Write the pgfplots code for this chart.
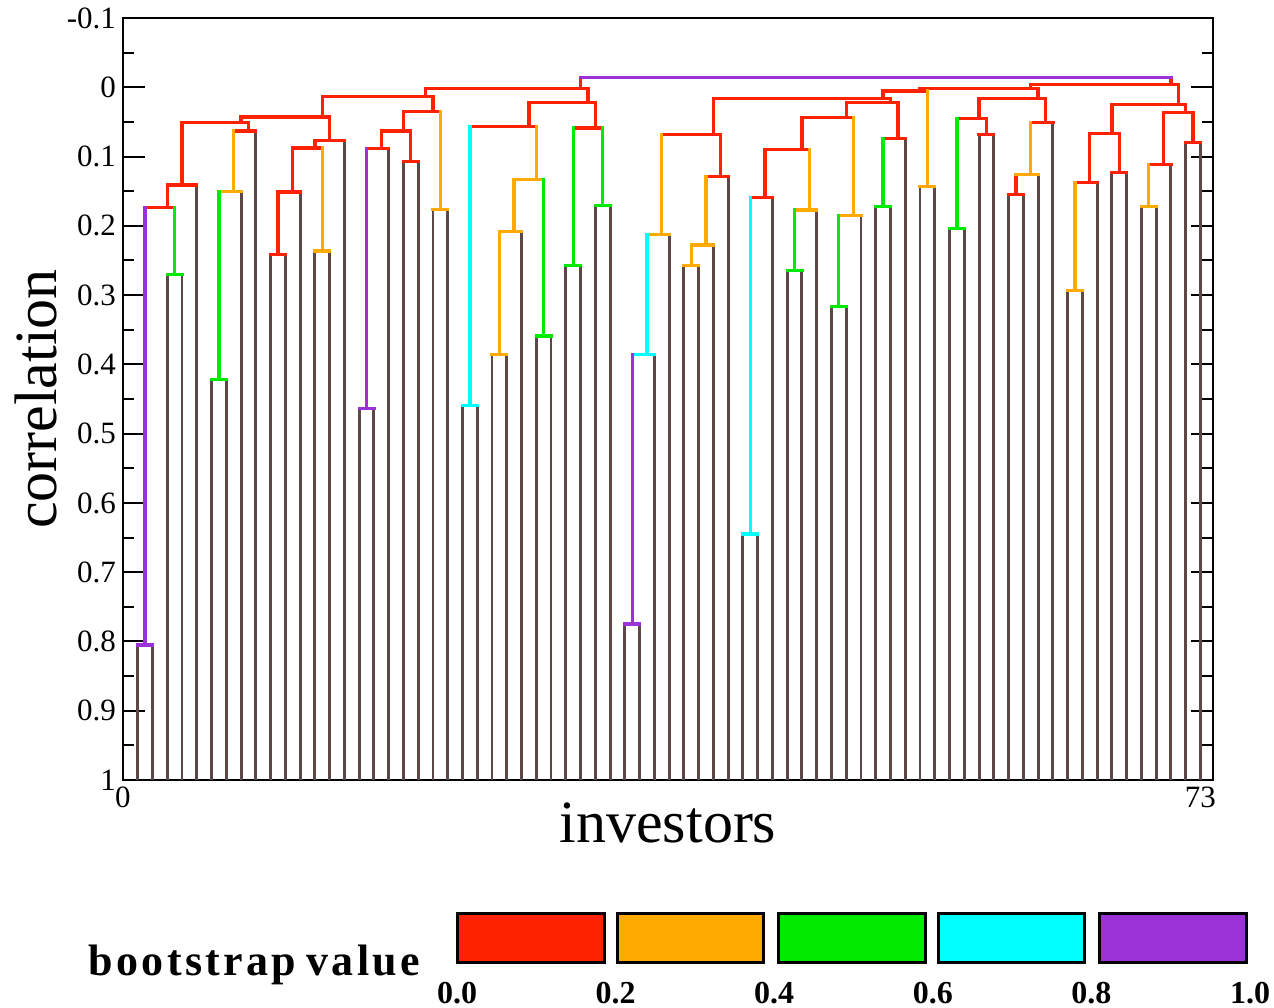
\documentclass[border=0pt]{standalone}
\usepackage{fontspec}
\setmainfont{Liberation Serif}
\usepackage{pgfplots}
\usepackage{pgfplotstable}
\pgfplotsset{compat=1.18}
\definecolor{cRed}{RGB}{255,34,0}
\definecolor{cOrange}{RGB}{255,170,0}
\definecolor{cGreen}{RGB}{0,235,0}
\definecolor{cCyan}{RGB}{0,255,255}
\definecolor{cPurple}{RGB}{155,50,215}
\definecolor{cBrown}{RGB}{92,72,72}

% leaves: vertical line from 1 up to the height where each leaf joins
\pgfplotstableread[row sep=\\]{
x y\\
1 1\\1 0.805\\nan nan\\ 2 1\\2 0.805\\nan nan\\ 3 1\\3 0.270\\nan nan\\ 4 1\\4 0.270\\nan nan\\
5 1\\5 0.141\\nan nan\\ 6 1\\6 0.422\\nan nan\\ 7 1\\7 0.422\\nan nan\\ 8 1\\8 0.150\\nan nan\\
9 1\\9 0.063\\nan nan\\ 10 1\\10 0.241\\nan nan\\ 11 1\\11 0.241\\nan nan\\ 12 1\\12 0.151\\nan nan\\
13 1\\13 0.2365\\nan nan\\ 14 1\\14 0.2365\\nan nan\\ 15 1\\15 0.077\\nan nan\\ 16 1\\16 0.4635\\nan nan\\
17 1\\17 0.4635\\nan nan\\ 18 1\\18 0.0885\\nan nan\\ 19 1\\19 0.107\\nan nan\\ 20 1\\20 0.107\\nan nan\\
21 1\\21 0.176\\nan nan\\ 22 1\\22 0.176\\nan nan\\ 23 1\\23 0.459\\nan nan\\ 24 1\\24 0.459\\nan nan\\
25 1\\25 0.386\\nan nan\\ 26 1\\26 0.386\\nan nan\\ 27 1\\27 0.208\\nan nan\\ 28 1\\28 0.359\\nan nan\\
29 1\\29 0.359\\nan nan\\ 30 1\\30 0.2575\\nan nan\\ 31 1\\31 0.2575\\nan nan\\ 32 1\\32 0.171\\nan nan\\
33 1\\33 0.171\\nan nan\\ 34 1\\34 0.775\\nan nan\\ 35 1\\35 0.775\\nan nan\\ 36 1\\36 0.386\\nan nan\\
37 1\\37 0.213\\nan nan\\ 38 1\\38 0.2575\\nan nan\\ 39 1\\39 0.2575\\nan nan\\ 40 1\\40 0.2276\\nan nan\\
41 1\\41 0.129\\nan nan\\ 42 1\\42 0.645\\nan nan\\ 43 1\\43 0.645\\nan nan\\ 44 1\\44 0.159\\nan nan\\
45 1\\45 0.265\\nan nan\\ 46 1\\46 0.265\\nan nan\\ 47 1\\47 0.177\\nan nan\\ 48 1\\48 0.3167\\nan nan\\
49 1\\49 0.3167\\nan nan\\ 50 1\\50 0.185\\nan nan\\ 51 1\\51 0.1723\\nan nan\\ 52 1\\52 0.1723\\nan nan\\
53 1\\53 0.0736\\nan nan\\ 54 1\\54 0.1434\\nan nan\\ 55 1\\55 0.1434\\nan nan\\ 56 1\\56 0.2036\\nan nan\\
57 1\\57 0.2036\\nan nan\\ 58 1\\58 0.0679\\nan nan\\ 59 1\\59 0.0679\\nan nan\\ 60 1\\60 0.1545\\nan nan\\
61 1\\61 0.1545\\nan nan\\ 62 1\\62 0.1256\\nan nan\\ 63 1\\63 0.0505\\nan nan\\ 64 1\\64 0.2935\\nan nan\\
65 1\\65 0.2935\\nan nan\\ 66 1\\66 0.137\\nan nan\\ 67 1\\67 0.1227\\nan nan\\ 68 1\\68 0.1227\\nan nan\\
69 1\\69 0.172\\nan nan\\ 70 1\\70 0.172\\nan nan\\ 71 1\\71 0.111\\nan nan\\ 72 1\\72 0.0794\\nan nan\\
73 1\\73 0.0794\\nan nan\\
}\leaves

% bootstrap 0.0-0.2
\pgfplotstableread[row sep=\\]{
x y\\
1.5 0.174\\3.5 0.174\\nan nan\\3 0.174\\3 0.141\\nan nan\\
3 0.141\\5 0.141\\nan nan\\4 0.141\\4 0.051\\nan nan\\
7.5 0.063\\9 0.063\\nan nan\\8.5 0.063\\8.5 0.051\\nan nan\\
4 0.051\\8.5 0.051\\nan nan\\8 0.051\\8 0.043\\nan nan\\
10 0.241\\11 0.241\\nan nan\\10.5 0.241\\10.5 0.151\\nan nan\\
10.5 0.151\\12 0.151\\nan nan\\11.5 0.151\\11.5 0.0875\\nan nan\\
11.5 0.0875\\13.5 0.0875\\nan nan\\13 0.0875\\13 0.077\\nan nan\\
13 0.077\\15 0.077\\nan nan\\14 0.077\\14 0.043\\nan nan\\
8 0.043\\14 0.043\\nan nan\\13.5 0.043\\13.5 0.013\\nan nan\\
16.5 0.0885\\18 0.0885\\nan nan\\17.5 0.0885\\17.5 0.063\\nan nan\\
19 0.107\\20 0.107\\nan nan\\19.5 0.107\\19.5 0.063\\nan nan\\
17.5 0.063\\19.5 0.063\\nan nan\\19 0.063\\19 0.035\\nan nan\\
19 0.035\\21.5 0.035\\nan nan\\21 0.035\\21 0.013\\nan nan\\
13.5 0.013\\21 0.013\\nan nan\\20.5 0.013\\20.5 0.0015\\nan nan\\
23.5 0.0568\\28 0.0568\\nan nan\\27.5 0.0568\\27.5 0.022\\nan nan\\
30.5 0.059\\32.5 0.059\\nan nan\\32 0.059\\32 0.022\\nan nan\\
27.5 0.022\\32 0.022\\nan nan\\31.5 0.022\\31.5 0.0015\\nan nan\\
20.5 0.0015\\31.5 0.0015\\nan nan\\31 0.0015\\31 -0.0145\\nan nan\\
39.5 0.129\\41 0.129\\nan nan\\40.5 0.129\\40.5 0.068\\nan nan\\
36.5 0.068\\40.5 0.068\\nan nan\\40 0.068\\40 0.016\\nan nan\\
42.5 0.159\\44 0.159\\nan nan\\43.5 0.159\\43.5 0.0895\\nan nan\\
43.5 0.0895\\46.5 0.0895\\nan nan\\46 0.0895\\46 0.0438\\nan nan\\
46 0.0438\\49.5 0.0438\\nan nan\\49 0.0438\\49 0.0221\\nan nan\\
51.5 0.0736\\53 0.0736\\nan nan\\52.5 0.0736\\52.5 0.0221\\nan nan\\
49 0.0221\\52.5 0.0221\\nan nan\\52 0.0221\\52 0.016\\nan nan\\
40 0.016\\52 0.016\\nan nan\\51.5 0.016\\51.5 0.0053\\nan nan\\
51.5 0.0053\\54.5 0.0053\\nan nan\\54 0.0053\\54 0.0014\\nan nan\\
58 0.0679\\59 0.0679\\nan nan\\58.5 0.0679\\58.5 0.0448\\nan nan\\
56.5 0.0448\\58.5 0.0448\\nan nan\\58 0.0448\\58 0.0159\\nan nan\\
60 0.1545\\61 0.1545\\nan nan\\60.5 0.1545\\60.5 0.1256\\nan nan\\
61.5 0.0505\\63 0.0505\\nan nan\\62.5 0.0505\\62.5 0.0159\\nan nan\\
58 0.0159\\62.5 0.0159\\nan nan\\62 0.0159\\62 0.0014\\nan nan\\
54 0.0014\\62 0.0014\\nan nan\\61.5 0.0014\\61.5 -0.0043\\nan nan\\
64.5 0.137\\66 0.137\\nan nan\\65.5 0.137\\65.5 0.0664\\nan nan\\
67 0.1227\\68 0.1227\\nan nan\\67.5 0.1227\\67.5 0.0664\\nan nan\\
65.5 0.0664\\67.5 0.0664\\nan nan\\67 0.0664\\67 0.0245\\nan nan\\
69.5 0.111\\71 0.111\\nan nan\\70.5 0.111\\70.5 0.036\\nan nan\\
72 0.0794\\73 0.0794\\nan nan\\72.5 0.0794\\72.5 0.036\\nan nan\\
70.5 0.036\\72.5 0.036\\nan nan\\72 0.036\\72 0.0245\\nan nan\\
67 0.0245\\72 0.0245\\nan nan\\71.5 0.0245\\71.5 -0.0043\\nan nan\\
61.5 -0.0043\\71.5 -0.0043\\nan nan\\71 -0.0043\\71 -0.0145\\nan nan\\
}\redsegs

% bootstrap 0.2-0.4
\pgfplotstableread[row sep=\\]{
x y\\
6.5 0.150\\8 0.150\\nan nan\\7.5 0.150\\7.5 0.063\\nan nan\\
13 0.2365\\14 0.2365\\nan nan\\13.5 0.2365\\13.5 0.0875\\nan nan\\
21 0.176\\22 0.176\\nan nan\\21.5 0.176\\21.5 0.035\\nan nan\\
25 0.386\\26 0.386\\nan nan\\25.5 0.386\\25.5 0.208\\nan nan\\
25.5 0.208\\27 0.208\\nan nan\\26.5 0.208\\26.5 0.133\\nan nan\\
26.5 0.133\\28.5 0.133\\nan nan\\28 0.133\\28 0.0568\\nan nan\\
35.5 0.213\\37 0.213\\nan nan\\36.5 0.213\\36.5 0.068\\nan nan\\
38 0.2575\\39 0.2575\\nan nan\\38.5 0.2575\\38.5 0.2276\\nan nan\\
38.5 0.2276\\40 0.2276\\nan nan\\39.5 0.2276\\39.5 0.129\\nan nan\\
45.5 0.177\\47 0.177\\nan nan\\46.5 0.177\\46.5 0.0895\\nan nan\\
48.5 0.185\\50 0.185\\nan nan\\49.5 0.185\\49.5 0.0438\\nan nan\\
54 0.1434\\55 0.1434\\nan nan\\54.5 0.1434\\54.5 0.0053\\nan nan\\
60.5 0.1256\\62 0.1256\\nan nan\\61.5 0.1256\\61.5 0.0505\\nan nan\\
64 0.2935\\65 0.2935\\nan nan\\64.5 0.2935\\64.5 0.137\\nan nan\\
69 0.172\\70 0.172\\nan nan\\69.5 0.172\\69.5 0.111\\nan nan\\
}\orangesegs

% bootstrap 0.4-0.6
\pgfplotstableread[row sep=\\]{
x y\\
3 0.270\\4 0.270\\nan nan\\3.5 0.270\\3.5 0.174\\nan nan\\
6 0.422\\7 0.422\\nan nan\\6.5 0.422\\6.5 0.150\\nan nan\\
28 0.359\\29 0.359\\nan nan\\28.5 0.359\\28.5 0.133\\nan nan\\
30 0.2575\\31 0.2575\\nan nan\\30.5 0.2575\\30.5 0.059\\nan nan\\
32 0.171\\33 0.171\\nan nan\\32.5 0.171\\32.5 0.059\\nan nan\\
45 0.265\\46 0.265\\nan nan\\45.5 0.265\\45.5 0.177\\nan nan\\
48 0.3167\\49 0.3167\\nan nan\\48.5 0.3167\\48.5 0.185\\nan nan\\
51 0.1723\\52 0.1723\\nan nan\\51.5 0.1723\\51.5 0.0736\\nan nan\\
56 0.2036\\57 0.2036\\nan nan\\56.5 0.2036\\56.5 0.0448\\nan nan\\
}\greensegs

% bootstrap 0.6-0.8
\pgfplotstableread[row sep=\\]{
x y\\
23 0.459\\24 0.459\\nan nan\\23.5 0.459\\23.5 0.0568\\nan nan\\
34.5 0.386\\36 0.386\\nan nan\\35.5 0.386\\35.5 0.213\\nan nan\\
42 0.645\\43 0.645\\nan nan\\42.5 0.645\\42.5 0.159\\nan nan\\
}\cyansegs

% bootstrap 0.8-1.0
\pgfplotstableread[row sep=\\]{
x y\\
1 0.805\\2 0.805\\nan nan\\1.5 0.805\\1.5 0.174\\nan nan\\
16 0.4635\\17 0.4635\\nan nan\\16.5 0.4635\\16.5 0.0885\\nan nan\\
34 0.775\\35 0.775\\nan nan\\34.5 0.775\\34.5 0.386\\nan nan\\
31 -0.0145\\71 -0.0145\\nan nan\\
}\purplesegs

\begin{document}
\begin{tikzpicture}
\useasboundingbox (0,0) rectangle (637pt,503.5pt);
\begin{axis}[
  at={(61.5pt,113.5pt)}, anchor=south west,
  scale only axis, width=545pt, height=381pt,
  xmin=0, xmax=73.85, ymin=-0.1, ymax=1, y dir=reverse,
  xtick={0,73}, xticklabels={0,73}, xtick pos=bottom,
  ytick={-0.1,0,0.1,0.2,0.3,0.4,0.5,0.6,0.7,0.8,0.9,1},
  yticklabels={-0.1,0,0.1,0.2,0.3,0.4,0.5,0.6,0.7,0.8,0.9,1},
  minor y tick num=1,
  tick align=inside,
  major tick length=11pt, minor tick length=5.5pt,
  major tick style={black, line width=1pt},
  minor tick style={black, line width=1pt},
  axis line style={line width=1pt},
  tick label style={font=\fontsize{15.5}{18}\selectfont},
  xlabel={investors}, ylabel={correlation},
  label style={font=\fontsize{30}{34}\selectfont},
  xlabel style={at={(axis description cs:0.5,-0.0814)}, anchor=base, inner sep=0pt},
  ylabel style={at={(axis description cs:-0.0606,0.5)}, anchor=base, inner sep=0pt},
  unbounded coords=jump,
]
\addplot[cBrown, line width=1.45pt, mark=none] table[x=x,y=y] {\leaves};
\addplot[cRed, line width=1.65pt, line cap=rect, mark=none] table[x=x,y=y] {\redsegs};
\addplot[cOrange, line width=1.65pt, line cap=rect, mark=none] table[x=x,y=y] {\orangesegs};
\addplot[cGreen, line width=1.65pt, line cap=rect, mark=none] table[x=x,y=y] {\greensegs};
\addplot[cCyan, line width=1.65pt, line cap=rect, mark=none] table[x=x,y=y] {\cyansegs};
\addplot[cPurple, line width=1.65pt, line cap=rect, mark=none] table[x=x,y=y] {\purplesegs};
\end{axis}

\begin{axis}[
  at={(228.5pt,22.5pt)}, anchor=south west,
  scale only axis, width=396.5pt, height=24.5pt,
  xmin=0, xmax=1, ymin=0, ymax=1,
  axis line style={draw=none}, ytick=\empty,
  xtick={0,0.2,0.4,0.6,0.8,1}, xticklabels={0.0,0.2,0.4,0.6,0.8,1.0},
  major tick length=0pt, tick style={draw=none},
  xticklabel style={font=\bfseries\fontsize{16}{19}\selectfont, anchor=base, yshift=-20.5pt},
  clip=false,
]
\addplot[fill=cRed, draw=black, line width=1.5pt] coordinates {(0,0) (0.1854,0) (0.1854,1) (0,1)} -- cycle;
\addplot[fill=cOrange, draw=black, line width=1.5pt] coordinates {(0.2018,0) (0.3871,0) (0.3871,1) (0.2018,1)} -- cycle;
\addplot[fill=cGreen, draw=black, line width=1.5pt] coordinates {(0.4048,0) (0.5902,0) (0.5902,1) (0.4048,1)} -- cycle;
\addplot[fill=cCyan, draw=black, line width=1.5pt] coordinates {(0.6066,0) (0.7919,0) (0.7919,1) (0.6066,1)} -- cycle;
\addplot[fill=cPurple, draw=black, line width=1.5pt] coordinates {(0.8096,0) (0.9950,0) (0.9950,1) (0.8096,1)} -- cycle;
\end{axis}

\node[anchor=base west, inner sep=0pt, font=\bfseries\fontsize{22}{25}\selectfont] at (44pt,16pt)
  {\makebox[166pt][s]{b\hfill o\hfill o\hfill t\hfill s\hfill t\hfill r\hfill a\hfill p\hfill\hfill\hfill v\hfill a\hfill l\hfill u\hfill e}};
\end{tikzpicture}
\end{document}
